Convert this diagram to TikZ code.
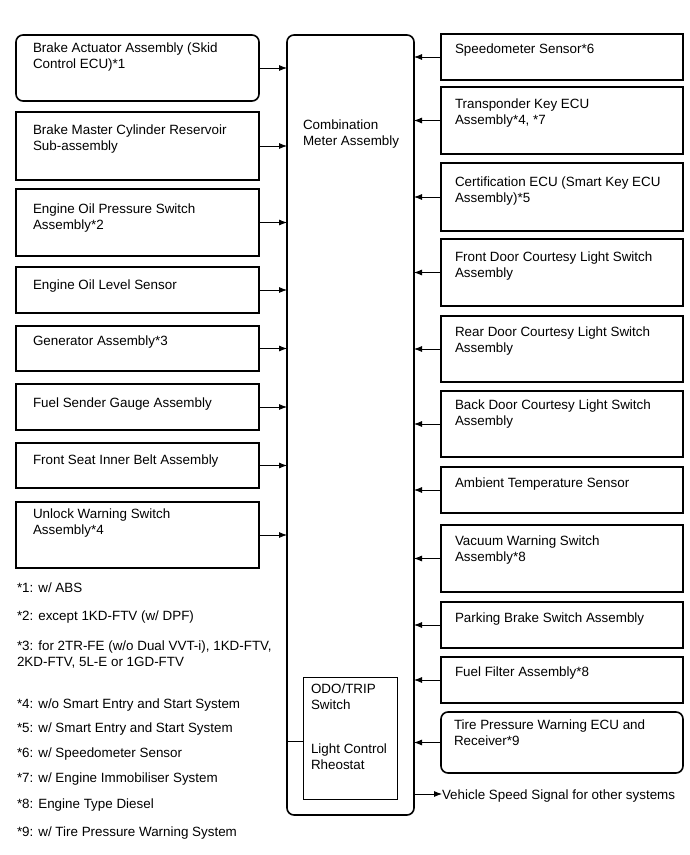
\documentclass[tikz,border=0pt]{standalone}
\usepackage{fontspec}
\setmainfont{Liberation Sans}
\usetikzlibrary{arrows.meta}
\newcommand\mytext[1]{\begin{tabular}[t]{@{}l@{}}#1\end{tabular}}
\newcommand\blk[9]{%
  \node[#1, minimum width={#5-#3}, minimum height={#6-#4}, anchor=north west] (#2) at (#3,#4) {};
  \node[txt] (#2t) at (#7,#8) {\mytext{#9}};
}
\begin{document}
\begin{tikzpicture}[x=1pt,y=-1pt,
  box/.style={draw=black, line width=1.6pt, inner sep=0pt, outer sep=0pt},
  rbox/.style={box, rounded corners=7pt},
  ibox/.style={draw=black, line width=0.9pt, inner sep=0pt, outer sep=0pt},
  txt/.style={anchor=base west, inner sep=0pt, outer sep=0pt, font=\fontsize{13.4}{16}\selectfont, text=black},
  conn/.style={draw=black, line width=0.8pt, -{Latex[length=8pt,width=6pt]}},
  plain/.style={draw=black, line width=0.8pt},
]
\useasboundingbox (0,0) rectangle (690,855);

% central box
\node[rbox, minimum width=127, minimum height=780, anchor=north west] (cm) at (287,35) {};
\node[txt] (cmt) at (303,129) {\mytext{Combination\\Meter Assembly}};

% inner box
\node[ibox, minimum width=94, minimum height=122, anchor=north west] (inner) at (303,677) {};
\node[txt] (odo) at (311,693) {\mytext{ODO/TRIP\\Switch}};
\node[txt] (rheo) at (311,753) {\mytext{Light Control\\Rheostat}};
\coordinate (ij) at (303,741);
\draw[plain] (ij -| cm.west) -- (ij);

% left boxes
\blk{rbox}{L1}{16}{35}{259}{101}{33}{52}{Brake Actuator Assembly (Skid\\Control ECU)*1}
\blk{box}{L2}{16}{112}{259}{180}{33}{134}{Brake Master Cylinder Reservoir\\Sub-assembly}
\blk{box}{L3}{16}{189}{259}{256}{33}{213}{Engine Oil Pressure Switch\\Assembly*2}
\blk{box}{L4}{16}{267}{259}{313}{33}{289}{Engine Oil Level Sensor}
\blk{box}{L5}{16}{326}{259}{371}{33}{345}{Generator Assembly*3}
\blk{box}{L6}{16}{384}{259}{430}{33}{407}{Fuel Sender Gauge Assembly}
\blk{box}{L7}{16}{443}{259}{488}{33}{464}{Front Seat Inner Belt Assembly}
\blk{box}{L8}{16}{502}{259}{568}{33}{518}{Unlock Warning Switch\\Assembly*4}

% right boxes
\blk{box}{R1}{441}{34}{683}{80}{455}{53}{Speedometer Sensor*6}
\blk{box}{R2}{441}{87}{683}{154}{455}{108}{Transponder Key ECU\\Assembly*4, *7}
\blk{box}{R3}{441}{163}{683}{231}{455}{186}{Certification ECU (Smart Key ECU\\Assembly)*5}
\blk{box}{R4}{441}{239}{683}{306}{455}{261}{Front Door Courtesy Light Switch\\Assembly}
\blk{box}{R5}{441}{316}{683}{382}{455}{336}{Rear Door Courtesy Light Switch\\Assembly}
\blk{box}{R6}{441}{391}{683}{457}{455}{409}{Back Door Courtesy Light Switch\\Assembly}
\blk{box}{R7}{441}{467}{683}{513}{455}{487}{Ambient Temperature Sensor}
\blk{box}{R8}{441}{525}{683}{592}{455}{545}{Vacuum Warning Switch\\Assembly*8}
\blk{box}{R9}{441}{602}{683}{648}{455}{622}{Parking Brake Switch Assembly}
\blk{box}{R10}{441}{657}{683}{703}{455}{676}{Fuel Filter Assembly*8}
\blk{rbox}{R11}{441}{712}{683}{773}{454}{729}{Tire Pressure Warning ECU and\\Receiver*9}

% connectors
\foreach \n in {L1,L2,L3,L4,L5,L6,L7,L8}
  \draw[conn] (\n.east) -- (\n.east -| cm.west);
\foreach \n in {R1,R2,R3,R4,R5,R6,R7,R8,R9,R10,R11}
  \draw[conn] (\n.west) -- (\n.west -| cm.east);

% vehicle speed signal
\node[txt] (vs) at (442,799) {Vehicle Speed Signal for other systems};
\coordinate (vsy) at (0,794);
\draw[conn] (cm.east |- vsy) -- (vs.west |- vsy);

% footnotes
\node[txt] (f1) at (17,592) {*1: w/ ABS};
\node[txt] (f2) at (17,620) {*2: except 1KD-FTV (w/ DPF)};
\node[txt] (f3) at (17,650) {\mytext{*3: for 2TR-FE (w/o Dual VVT-i), 1KD-FTV,\\2KD-FTV, 5L-E or 1GD-FTV}};
\node[txt] (f4) at (17,708) {*4: w/o Smart Entry and Start System};
\node[txt] (f5) at (17,732) {*5: w/ Smart Entry and Start System};
\node[txt] (f6) at (17,757) {*6: w/ Speedometer Sensor};
\node[txt] (f7) at (17,782) {*7: w/ Engine Immobiliser System};
\node[txt] (f8) at (17,808) {*8: Engine Type Diesel};
\node[txt] (f9) at (17,836) {*9: w/ Tire Pressure Warning System};
\end{tikzpicture}
\end{document}
